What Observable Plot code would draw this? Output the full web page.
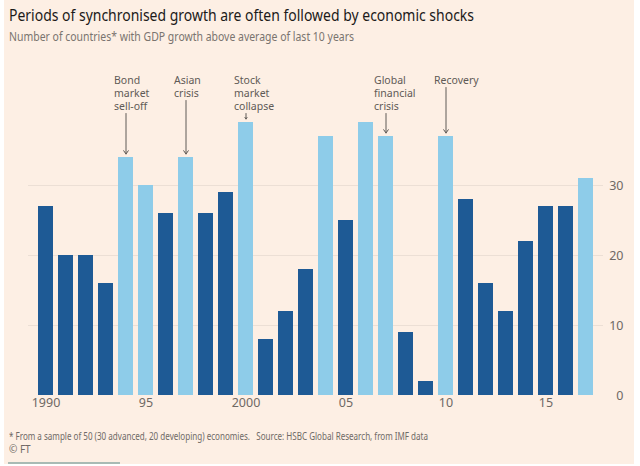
<!DOCTYPE html>
<html>
<head>
<meta charset="utf-8">
<script src="https://cdn.jsdelivr.net/npm/d3@7"></script>
<script src="https://cdn.jsdelivr.net/npm/@observablehq/plot@0.6"></script>
<style>
  body { margin: 0; background: #ffffff; font-family: "Noto Sans", sans-serif; }
  #bg { position: absolute; left: 4px; top: 0; width: 630px; height: 464px; background: #fdefe4; }
  #chart { position: absolute; left: 0; top: 0; }
  .fit { position: absolute; left: 9px; white-space: nowrap; transform-origin: 0 0; line-height: 1; }
  #rule { position: absolute; left: 8px; top: 462px; width: 112px; height: 1.5px; background: #a9bab4; }
</style>
</head>
<body>
<div id="bg"></div>
<div id="chart"></div>
<div class="fit" id="title" data-w="465" style="top:6px;font-size:17px;color:#1c1a19;">Periods of synchronised growth are often followed by economic shocks</div>
<div class="fit" id="subtitle" data-w="345" style="top:31px;font-size:12px;color:#7a746f;">Number of countries* with GDP growth above average of last 10 years</div>
<div class="fit" id="note" data-w="419" style="top:431px;font-size:10px;color:#6f6a66;">* From a sample of 50 (30 advanced, 20 developing) economies.&nbsp;&nbsp; Source: HSBC Global Research, from IMF data</div>
<div class="fit" id="copy" style="top:444px;font-size:10px;color:#6f6a66;">© FT</div>
<div id="rule"></div>
<script>
const years = [1990, 1991, 1992, 1993, 1994, 1995, 1996, 1997, 1998, 1999,
               2000, 2001, 2002, 2003, 2004, 2005, 2006, 2007, 2008, 2009,
               2010, 2011, 2012, 2013, 2014, 2015, 2016, 2017];
const values = [27, 20, 20, 16, 34, 30, 26, 34, 26, 29,
                39, 8, 12, 18, 37, 25, 39, 37, 9, 2,
                37, 28, 16, 12, 22, 27, 27, 31];
const highlightedYears = [1994, 1995, 1997, 2000, 2004, 2006, 2007, 2010, 2017];
const xTickYears = [1990, 1995, 2000, 2005, 2010, 2015];
const xTickLabels = ["1990", "95", "2000", "05", "10", "15"];
const yTicks = [0, 10, 20, 30];
const annotationYears = [1994, 1997, 2000, 2007, 2010];
const annotationLabels = ["Bond\nmarket\nsell-off", "Asian\ncrisis", "Stock\nmarket\ncollapse", "Global\nfinancial\ncrisis", "Recovery"];

const data = years.map((year, i) => ({year, value: values[i], group: highlightedYears.includes(year) ? "high" : "normal"}));
const annotations = annotationYears.map((year, i) => ({
  year, label: annotationLabels[i], value: values[years.indexOf(year)], lines: annotationLabels[i].split("\n").length
}));

const W = 640, H = 420, mT = 115, mB = 25, mL = 28, mR = 37;
const yMax = 40;
const pxPerUnit = (H - mB - mT) / yMax;
const labelTop = 74, lineStep = 13;
const arrowStart = d => yMax - (labelTop + d.lines * lineStep - mT) / pxPerUnit;

const ink = "#5f5a56";
const chart = Plot.plot({
  width: W, height: H,
  marginTop: mT, marginBottom: mB, marginLeft: mL, marginRight: mR,
  style: {background: "transparent", fontFamily: "Noto Sans, sans-serif", overflow: "visible"},
  x: {type: "band", domain: years, paddingInner: 0.25, paddingOuter: 0, axis: null},
  y: {domain: [0, yMax], axis: null},
  color: {domain: ["high", "normal"], range: ["#8ecce9", "#1e5a95"]},
  marks: [
    Plot.ruleY(yTicks.filter(d => d > 0), {stroke: "#ecdfd5", strokeWidth: 1}),
    Plot.barY(data, {x: "year", y: "value", fill: "group"}),
    Plot.text(xTickYears, {x: d => d, text: (d, i) => xTickLabels[i], frameAnchor: "bottom", lineAnchor: "top", dy: 3, fontSize: 12.5, fill: "#6f6964"}),
    Plot.text(yTicks, {y: d => d, text: d => String(d), frameAnchor: "right", textAnchor: "end", dx: 20, fontSize: 12.5, fill: "#6f6964"}),
    Plot.text(annotations, {x: "year", text: "label", frameAnchor: "top", lineAnchor: "top", textAnchor: "start", dx: -12, dy: labelTop - mT, fontSize: 10.5, lineHeight: 1.24, fill: ink}),
    Plot.arrow(annotations, {x1: "year", x2: "year", y1: arrowStart, y2: d => d.value + 0.5, stroke: ink, strokeWidth: 1, headLength: 6, headAngle: 70})
  ]
});
document.getElementById("chart").appendChild(chart);

function fit() {
  document.querySelectorAll(".fit[data-w]").forEach(el => {
    el.style.transform = "none";
    const w = el.getBoundingClientRect().width;
    const target = +el.dataset.w;
    if (w > 0) el.style.transform = `scaleX(${target / w})`;
  });
}
fit();
if (document.fonts && document.fonts.ready) document.fonts.ready.then(fit);
</script>
</body>
</html>
